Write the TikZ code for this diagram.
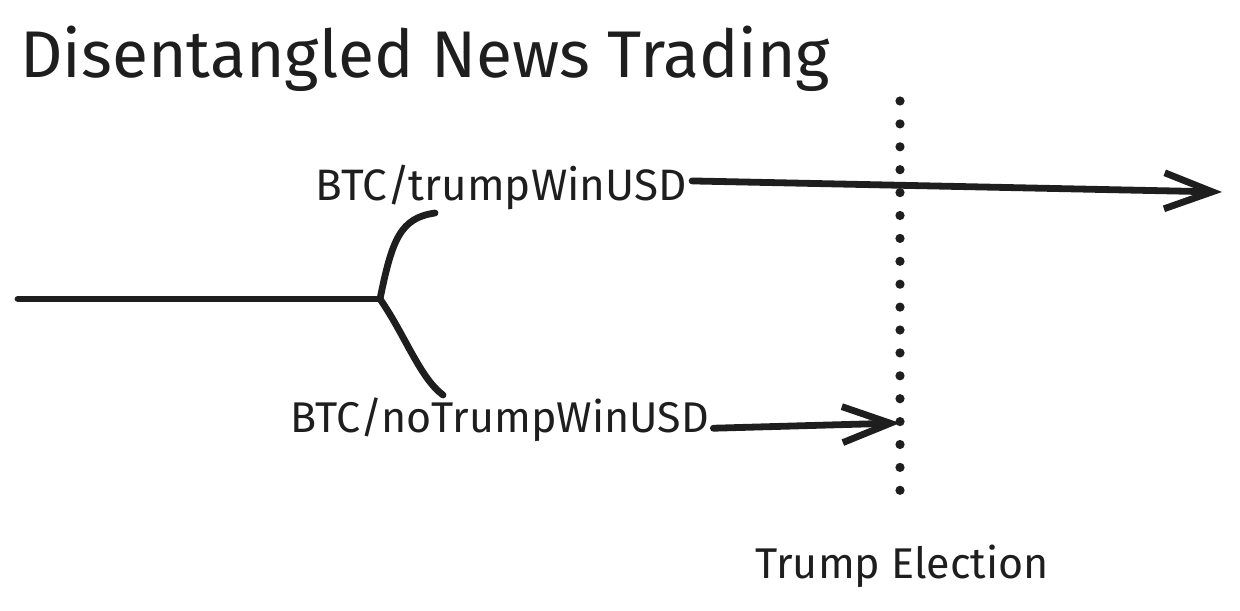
\documentclass[tikz,border=0pt]{standalone}
\usepackage{fontspec}
\setmainfont{Fira Sans}
\usetikzlibrary{arrows.meta}
\definecolor{inkgray}{RGB}{30, 30, 30}
\tikzset{
  stroke/.style={draw=inkgray, line width=3.4pt, line cap=round},
  label/.style={inner sep=0pt, text=inkgray, font=\fontsize{22}{26}\selectfont},
  barb/.style={-{Straight Barb[length=24pt, width=18pt, line width=3.4pt]}}
}

\begin{document}
\begin{tikzpicture}[x=0.5pt, y=-0.5pt]
\useasboundingbox (0, 0) rectangle (1240, 610);
\newcommand{\elecx}{900}
\node[label, anchor=base west, font=\fontsize{33}{38}\selectfont] (title) at (20, 78) {Disentangled News Trading};
\node[label, anchor=base west] (win) at (315, 200) {BTC/trumpWinUSD};
\node[label, anchor=base west, font=\fontsize{21.5}{26}\selectfont] (nowin) at (290, 432) {BTC/noTrumpWinUSD};
\node[label, anchor=base west, font=\fontsize{21.5}{26}\selectfont] (elec) at (755, 578) {Trump Election};
\coordinate (start) at (18, 299);
\coordinate (split) at (380, 299);
\coordinate (winend) at (1222, 192);
\coordinate (nowinend) at (\elecx, 423);
\coordinate (eltop) at (\elecx, 101);
\coordinate (elbot) at (\elecx, 494);
% timeline and the two branches
\draw[stroke] (start) -- (split);
\draw[stroke] (split) .. controls (392, 240) and (400, 218) .. (435, 213);
\draw[stroke] (split) .. controls (405, 335) and (420, 378) .. (443, 395);
\draw[stroke, barb] (win.east) ++(5, -6) -- (winend);
\draw[stroke, barb] (nowin.east) ++(4, 9) -- (nowinend);
% election date
\draw[inkgray, line width=4.6pt, line cap=round, dash pattern=on 0pt off 11.45pt] (eltop) -- (elbot);
\end{tikzpicture}
\end{document}
